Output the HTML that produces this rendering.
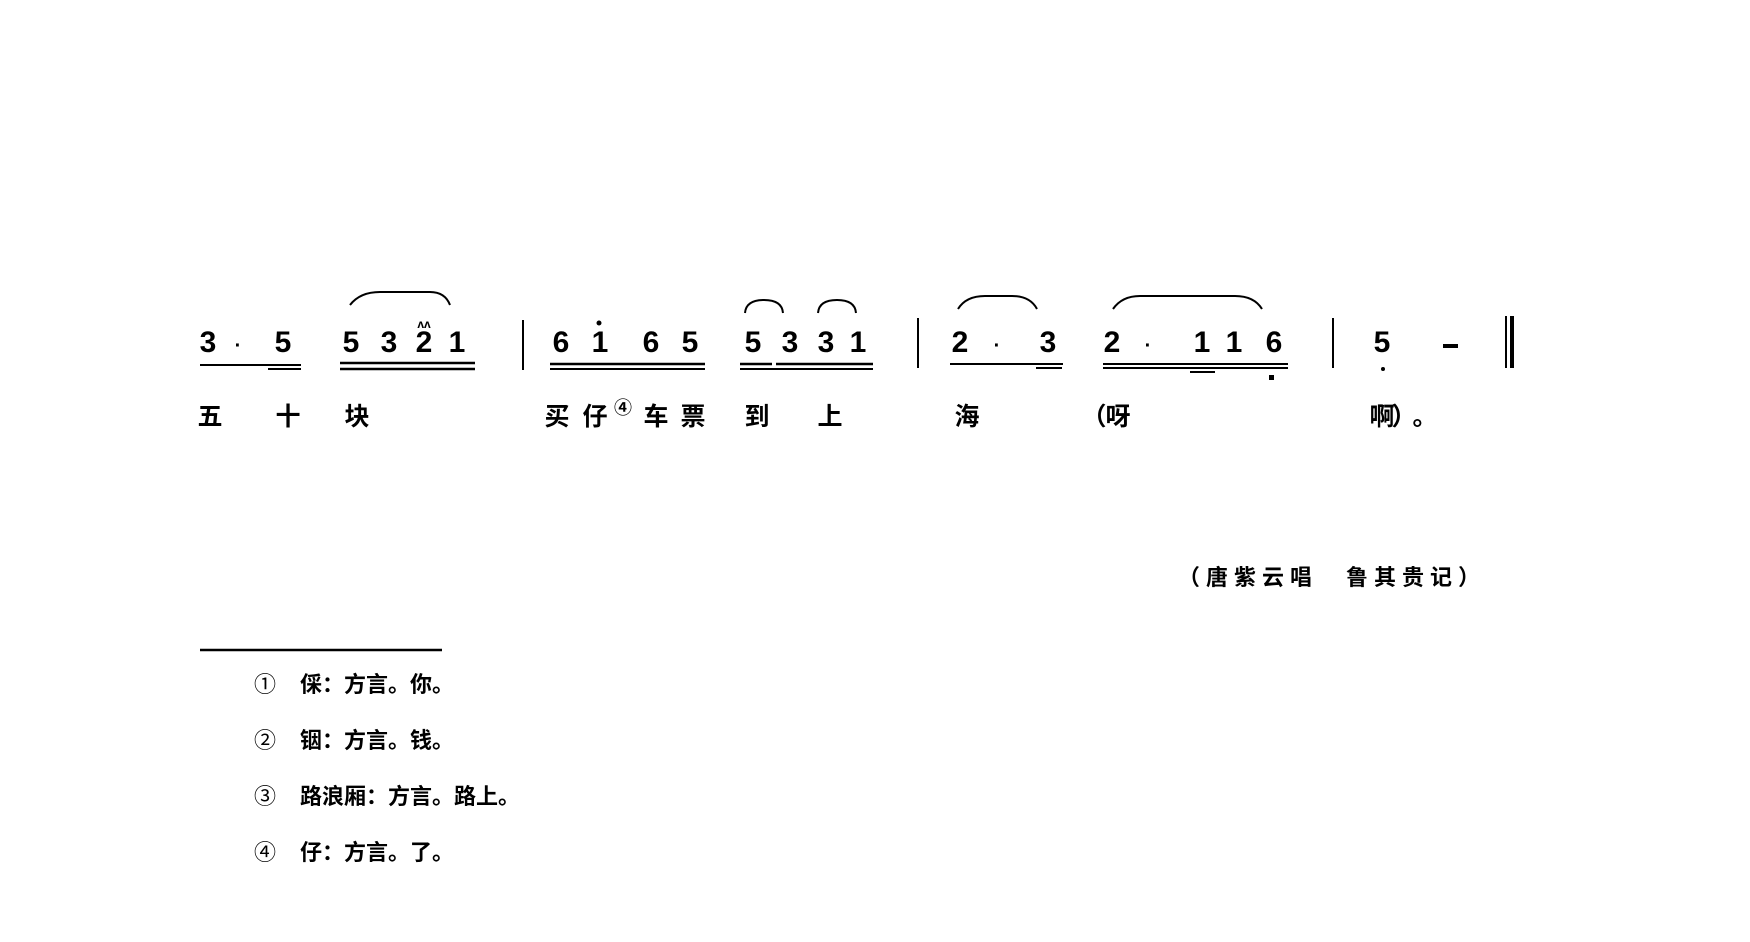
<!DOCTYPE html>
<html><head><meta charset="utf-8"><style>
html,body{margin:0;padding:0;background:#fff;}
svg{display:block}
.d{font-family:"Liberation Sans",sans-serif;font-weight:bold;font-size:30px;fill:#000}
.l{font-family:"Liberation Sans","Noto Sans CJK SC",sans-serif;font-size:25px;fill:#000;font-weight:bold}
.f{font-family:"Liberation Sans","Noto Sans CJK SC",sans-serif;font-size:22px;fill:#000;font-weight:bold}
</style></head><body>
<svg width="1750" height="942" viewBox="0 0 1750 942" xmlns="http://www.w3.org/2000/svg">
<g class="d" text-anchor="middle">
<text x="208" y="352">3</text><text x="238" y="352" font-size="20">·</text><text x="283" y="352">5</text>
<text x="351" y="352">5</text><text x="389" y="352">3</text><text x="424" y="352">2</text><text x="457" y="352">1</text>
<text x="561" y="352">6</text><text x="600" y="352">1</text><text x="651" y="352">6</text><text x="690" y="352">5</text>
<text x="753" y="352">5</text><text x="790" y="352">3</text><text x="826" y="352">3</text><text x="858" y="352">1</text>
<text x="960" y="352">2</text><text x="997" y="352" font-size="20">·</text><text x="1048" y="352">3</text>
<text x="1112" y="352">2</text><text x="1148" y="352" font-size="20">·</text><text x="1202" y="352">1</text><text x="1234" y="352">1</text><text x="1274" y="352">6</text>
<text x="1382" y="352">5</text>
</g>
<g fill="#000">
<circle cx="599" cy="323" r="2.5"/>
<circle cx="1383" cy="369" r="2"/>
<rect x="1269" y="375" width="5" height="5"/>
<rect x="1443" y="344" width="15" height="4"/>
</g>
<text x="424" y="328" font-size="12" font-family="Liberation Sans" text-anchor="middle" font-weight="bold">ʌʌ</text>
<g stroke="#000" fill="none">
<line x1="200" y1="365" x2="301" y2="365" stroke-width="2"/>
<line x1="268" y1="369" x2="301" y2="369" stroke-width="2"/>
<line x1="340" y1="363" x2="475" y2="363" stroke-width="2.5"/>
<line x1="340" y1="369" x2="475" y2="369" stroke-width="2.5"/>
<line x1="550" y1="364" x2="705" y2="364" stroke-width="2.5"/>
<line x1="550" y1="369" x2="705" y2="369" stroke-width="2"/>
<line x1="740" y1="364" x2="772" y2="364" stroke-width="2.5"/>
<line x1="776" y1="364" x2="873" y2="364" stroke-width="2.5"/>
<line x1="740" y1="369" x2="873" y2="369" stroke-width="2"/>
<line x1="950" y1="364" x2="1063" y2="364" stroke-width="2"/>
<line x1="1036" y1="368" x2="1062" y2="368" stroke-width="2"/>
<line x1="1103" y1="364" x2="1288" y2="364" stroke-width="2"/>
<line x1="1103" y1="368" x2="1288" y2="368" stroke-width="2"/>
<line x1="1190" y1="372" x2="1215" y2="372" stroke-width="2"/>
<line x1="523" y1="320" x2="523" y2="370" stroke-width="2"/>
<line x1="918" y1="318" x2="918" y2="368" stroke-width="2"/>
<line x1="1333" y1="318" x2="1333" y2="368" stroke-width="2"/>
<line x1="1506" y1="316" x2="1506" y2="368" stroke-width="2"/>
<line x1="1512" y1="316" x2="1512" y2="368" stroke-width="4"/>
<path d="M350 305 Q360 292 380 292 L430 292 Q445 292 450 305" stroke-width="2"/>
<path d="M745 313 Q746 300 764 300 Q782 300 783 313" stroke-width="2"/>
<path d="M818 313 Q819 300 837 300 Q855 300 856 313" stroke-width="2"/>
<path d="M958 309 Q966 296 985 296 L1012 296 Q1030 296 1037 309" stroke-width="2"/>
<path d="M1113 309 Q1122 296 1140 296 L1235 296 Q1254 296 1262 309" stroke-width="2"/>
<line x1="200" y1="650" x2="442" y2="650" stroke-width="2.5"/>
</g>
<g class="l" text-anchor="middle" dominant-baseline="central">
<text x="210" y="417">五</text><text x="288" y="417">十</text><text x="357" y="417">块</text>
<text x="557" y="417">买</text><text x="595" y="417">仔</text><text x="623" y="408" font-size="18">④</text><text x="656" y="417">车</text><text x="693" y="417">票</text>
<text x="757" y="417">到</text><text x="830" y="417">上</text>
<text x="967" y="417">海</text><text x="1094" y="417">（</text><text x="1118" y="417">呀</text>
<text x="1382" y="417">啊</text><text x="1404" y="417">）</text><text x="1425" y="417">。</text>
</g>
<text class="f" x="1178" y="585" font-weight="bold" letter-spacing="6">（唐紫云唱　鲁其贵记）</text>
<g class="f">
<text x="265" y="692" text-anchor="middle" font-weight="normal">①</text><text x="300" y="692">倸：方言。你。</text>
<text x="265" y="748" text-anchor="middle" font-weight="normal">②</text><text x="300" y="748">铟：方言。钱。</text>
<text x="265" y="804" text-anchor="middle" font-weight="normal">③</text><text x="300" y="804">路浪厢：方言。路上。</text>
<text x="265" y="860" text-anchor="middle" font-weight="normal">④</text><text x="300" y="860">仔：方言。了。</text>
</g>
</svg>
</body></html>
